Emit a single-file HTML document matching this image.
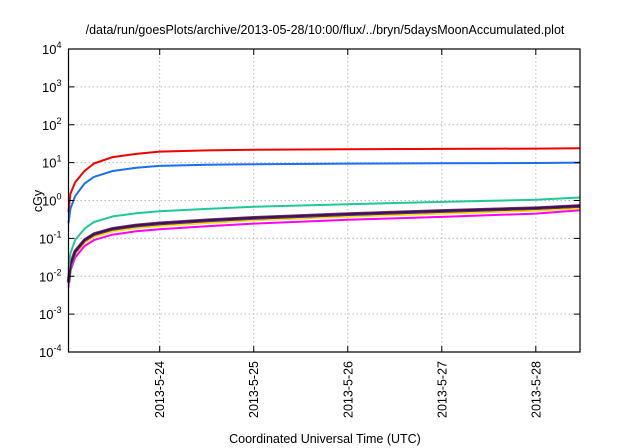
<!DOCTYPE html>
<html><head><meta charset="utf-8"><style>
body{margin:0;background:#fff}
svg{display:block;font-family:"Liberation Sans",sans-serif}
</style></head><body>
<svg width="640" height="448" id="c">
<text x="325" y="34" font-size="12.5" text-anchor="middle">/data/run/goesPlots/archive/2013-05-28/10:00/flux/../bryn/5daysMoonAccumulated.plot</text>
<text x="325" y="443" font-size="12.5" text-anchor="middle">Coordinated Universal Time (UTC)</text>
<text transform="translate(42,201) rotate(-90)" font-size="12.5" text-anchor="middle">cGy</text>
<g id="grid"></g><g id="series"></g><g id="axes"></g>
</svg>
<script>
const times=[0.03,0.05,0.1,0.2,0.3,0.5,0.75,1,1.5,2,3,4,5,5.47];
const redVals=[0.5,1.5,3,6,9.5,14,17,19.5,21,22,22.5,23,23.5,24];
const skyVals=[0.25,0.6,1.3,2.8,4.2,6,7.3,8.2,8.8,9.1,9.4,9.6,9.8,10];
const greenVals=[0.015,0.04,0.09,0.18,0.27,0.38,0.46,0.52,0.6,0.68,0.8,0.92,1.05,1.2];
const purpleVals=[0.007,0.02,0.045,0.09,0.13,0.18,0.22,0.25,0.3,0.35,0.44,0.53,0.63,0.72];
const blueVals=[0.0065,0.019,0.042,0.085,0.122,0.17,0.207,0.235,0.283,0.33,0.415,0.5,0.6,0.68];
const yellowVals=[0.006,0.017,0.038,0.076,0.11,0.153,0.187,0.212,0.255,0.3,0.375,0.45,0.54,0.62];
const magentaVals=[0.005,0.014,0.031,0.063,0.09,0.126,0.154,0.175,0.21,0.245,0.31,0.37,0.45,0.55];
const xTickVals=[1,2,3,4,5];
const xTickLabels=["2013-5-24","2013-5-25","2013-5-26","2013-5-27","2013-5-28"];
const yExps=[-4,-3,-2,-1,0,1,2,3,4];
const L=68.5,R=580,T=49,B=352,xmin=0.03,xmax=5.47;
const X=t=>L+(t-xmin)/(xmax-xmin)*(R-L);
const Y=v=>B-(Math.log10(v)+4)/8*(B-T);
const NS="http://www.w3.org/2000/svg";
function mk(tag,attrs,parent){const e=document.createElementNS(NS,tag);for(const k in attrs)e.setAttribute(k,attrs[k]);parent.appendChild(e);return e;}
const grid=document.getElementById('grid'),axes=document.getElementById('axes'),ser=document.getElementById('series');
yExps.forEach(p=>{const y=Y(Math.pow(10,p));
 if(p>-4&&p<4){const g=mk('line',{x1:L,x2:R,y1:y,y2:y,stroke:'#bbb','stroke-dasharray':'1.5,2.5','stroke-width':1},grid);}
 const t1=mk('line',{x1:L,x2:L+6,y1:y,y2:y,stroke:'#000'},axes);
 const t2=mk('line',{x1:R-6,x2:R,y1:y,y2:y,stroke:'#000'},axes);
 const tx=mk('text',{x:L-7,y:y+5,'font-size':13,'text-anchor':'end'},axes);
 
 tx.appendChild(document.createTextNode('10'));const s=mk('tspan',{dy:-6,'font-size':9},tx);s.textContent=String(p);
});
xTickVals.forEach((v,i)=>{const x=X(v);
 const g=mk('line',{x1:x,x2:x,y1:T,y2:B,stroke:'#bbb','stroke-dasharray':'1.5,2.5'},grid);
 const t1=mk('line',{x1:x,x2:x,y1:B-6,y2:B,stroke:'#000'},axes);
 const t2=mk('line',{x1:x,x2:x,y1:T,y2:T+6,stroke:'#000'},axes);
 const tx=mk('text',{transform:`translate(${x+4.5},361) rotate(-90)`,'font-size':12.5,'text-anchor':'end'},axes);
 tx.textContent=xTickLabels[i];
});
const box=mk('rect',{x:L,y:T,width:R-L,height:B-T,fill:'none',stroke:'#000','stroke-width':1.2},axes);

function line(vals,color,w,name){const d=vals.map((v,i)=>(i?'L':'M')+X(times[i]).toFixed(1)+','+Y(v).toFixed(1)).join('');
 const p=mk('path',{d:d,fill:'none',stroke:color,'stroke-width':w,'stroke-linejoin':'round'},ser);
 }
line(magentaVals,'#ff00ff',2,'series-magenta');
line(yellowVals,'#ffe000',2,'series-yellow');
line(blueVals,'#0000ff',2,'series-blue');
line(purpleVals,'#7a3a5a',3.5,'series-purple-outline');
line(purpleVals,'#3a1060',2,'series-purple');
line(greenVals,'#20c898',2,'series-green');
line(skyVals,'#1a70f0',2,'series-sky');
line(redVals,'#f00000',2,'series-red');
</script>
</body></html>
